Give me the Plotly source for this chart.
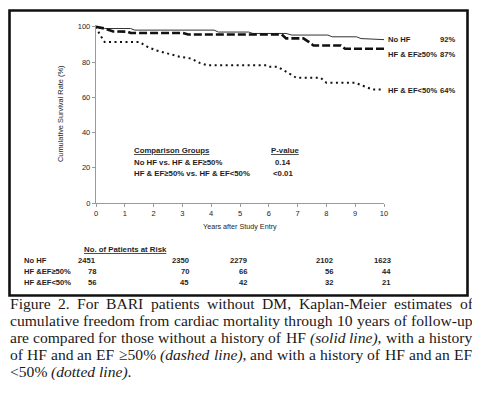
import plotly.graph_objects as go

# ---------------- data ----------------
t_nohf = [0, 0.1, 0.3, 1.2, 1.35, 4.1, 4.25, 5.3, 5.45, 6.6, 6.8, 8.05, 8.2, 9.05, 9.2, 9.7, 10]
s_nohf = [100, 99.3, 99.0, 99.0, 98.1, 98.1, 97.0, 97.0, 96.2, 96.2, 95.3, 95.3, 94.3, 94.3, 93.3, 93.1, 92.7]

t_ef_ge = [0, 0.3, 0.6, 1.1, 1.2, 3.0, 3.2, 6.45, 6.6, 7.2, 7.4, 7.55, 8.5, 8.65, 10]
s_ef_ge = [100, 99, 97.3, 97.2, 96.5, 96.5, 95.6, 95.6, 93.4, 93.4, 91.3, 89.4, 89.4, 87.5, 87.5]

t_ef_lt = [0, 0.12, 0.3, 1.5, 1.8, 2.1, 2.45, 2.9, 3.3, 3.6, 3.85, 5.95, 6.05, 6.3, 6.6, 6.96,
           7.8, 8.0, 9.0, 9.3, 9.6, 10]
s_ef_lt = [100, 96, 91.3, 91.3, 88.5, 86.5, 85, 83, 82, 79.5, 78.2, 78.2, 77.3, 77.3, 74.5, 71,
           71, 68.2, 68.2, 66.5, 64.4, 64.4]

series_names = ["No HF", "HF &amp; EF≥50%", "HF &amp; EF&lt;50%"]
final_pct = ["92%", "87%", "64%"]

y_ticks = [0, 20, 40, 60, 80, 100]
x_ticks = list(range(0, 11))

comp_groups = ["No HF vs. HF &amp; EF≥50%", "HF &amp; EF≥50% vs. HF &amp; EF&lt;50%"]
p_values = ["0.14", "&lt;0.01"]

risk_times = [0, 3, 5, 8, 10]
risk_labels = ["No HF", "HF &amp;EF≥50%", "HF &amp;EF&lt;50%"]
risk_nohf = [2451, 2350, 2279, 2102, 1623]
risk_ef_ge = [78, 70, 66, 56, 44]
risk_ef_lt = [56, 45, 42, 32, 21]

caption_lines = [
    "Figure 2. For BARI patients without DM, Kaplan-Meier estimates of",
    "cumulative freedom from cardiac mortality through 10 years of follow-up",
    "are compared for those without a history of HF <i>(solid line)</i>, with a history",
    "of HF and an EF ≥50% <i>(dashed line)</i>, and with a history of HF and an EF",
    "&lt;50% <i>(dotted line)</i>.",
]

# ---------------- geometry ----------------
# the page body has an 8px margin, so the figure is drawn 8px smaller
OFF = 8
FW, FH = 480 - OFF, 399 - OFF
PL, PR, PT, PB = 96, 384, 25, 203          # plot area in window pixels
PW = PR - PL
PH = PB - PT
ML, MR, MT, MB = PL - OFF, FW - (PR - OFF), PT - OFF, FH - (PB - OFF)


def px(xa):
    return (xa - PL) / PW


def py(ya):
    return (PB - ya) / PH


SANS = "Liberation Sans, Arial, sans-serif"
SERIF = "Liberation Serif, Times New Roman, serif"
INK = "#1e1e1e"
AX = "#9a9a9a"

fig = go.Figure()
fig.add_trace(go.Scatter(x=t_nohf, y=s_nohf, mode="lines",
                         line=dict(color="#333", width=1.0), showlegend=False))
fig.add_trace(go.Scatter(x=t_ef_ge, y=s_ef_ge, mode="lines",
                         line=dict(color="#111", width=2.6, dash="8px,3px"), showlegend=False))
fig.add_trace(go.Scatter(x=t_ef_lt, y=s_ef_lt, mode="lines",
                         line=dict(color="#111", width=2.0, dash="2px,3.5px"), showlegend=False))

ann = []


def txt(x, y, text, size=7.8, xanchor="center", yanchor="middle", xref="paper", yref="paper",
        family=SANS, color=INK, **kw):
    ann.append(dict(x=x, y=y, xref=xref, yref=yref, text=text, showarrow=False,
                    xanchor=xanchor, yanchor=yanchor, borderpad=0,
                    font=dict(family=family, size=size, color=color), **kw))


# end-of-curve labels
end_vals = [s_nohf[-1], s_ef_ge[-1], s_ef_lt[-1]]
label_dy = [0, 3.5, 0.5]
for name, pct, v, dy in zip(series_names, final_pct, end_vals, label_dy):
    txt(10, v, "<b>%s</b>" % name, size=7.6, xanchor="left", xref="x", yref="y",
        xshift=2.5, yshift=-dy * PH / 101)
    txt(px(456), v, "<b>%s</b>" % pct, size=7.6, xanchor="right", yref="y",
        yshift=-dy * PH / 101)

# comparison groups block
txt(px(133), py(150), "<b><u>Comparison Groups</u></b>", xanchor="left")
txt(px(284.5), py(150), "<b><u>P-value</u></b>", xanchor="center")
for i, (g, p) in enumerate(zip(comp_groups, p_values)):
    yy = py(162.7 + 10.6 * i)
    txt(px(133), yy, "<b>%s</b>" % g, xanchor="left")
    txt(px(283), yy, "<b>%s</b>" % p, xanchor="center")

# axis titles
txt(px(60), 0.5, "Cumulative Survival Rate (%)", size=7.4, textangle=-90)
txt(0.5, py(226.7), "Years after Study Entry", size=7.2)

# patients at risk table
txt(px(125), py(249.3), "<b><u>No. of Patients at Risk</u></b>")
for r, (lab, vals) in enumerate(zip(risk_labels, [risk_nohf, risk_ef_ge, risk_ef_lt])):
    yy = py(260.7 + 10.8 * r)
    txt(px(23), yy, "<b>%s</b>" % lab, size=7.6, xanchor="left")
    for t, v in zip(risk_times, vals):
        txt(t, yy, "<b>%d</b>" % v, size=7.6, xanchor="right", xref="x",
            xshift=(1 if t == 0 else 7.5))

# ---------------- justified caption ----------------
REG = {
    'a': 444, 'b': 500, 'c': 444, 'd': 500, 'e': 444, 'f': 333, 'g': 500, 'h': 500, 'i': 278,
    'j': 278, 'k': 500, 'l': 278, 'm': 778, 'n': 500, 'o': 500, 'p': 500, 'q': 500, 'r': 333,
    's': 389, 't': 278, 'u': 500, 'v': 500, 'w': 722, 'x': 500, 'y': 500, 'z': 444,
    'A': 722, 'B': 667, 'C': 667, 'D': 722, 'E': 611, 'F': 556, 'G': 722, 'H': 722, 'I': 333,
    'J': 389, 'K': 722, 'L': 611, 'M': 889, 'N': 722, 'O': 722, 'P': 556, 'Q': 722, 'R': 667,
    'S': 556, 'T': 611, 'U': 722, 'V': 722, 'W': 944, 'X': 722, 'Y': 722, 'Z': 611,
    ' ': 250, '.': 250, ',': 250, '-': 333, '(': 333, ')': 333, '%': 833, '<': 564, '≥': 549,
}
ITA = {'a': 500, 'f': 278, 'r': 389, 'v': 444, 'y': 444, '(': 333, ')': 333}


def word_width(word, size):
    w = 0.0
    ital = False
    i = 0
    while i < len(word):
        if word.startswith("<i>", i):
            ital = True
            i += 3
            continue
        if word.startswith("</i>", i):
            ital = False
            i += 4
            continue
        if word.startswith("&lt;", i):
            w += REG['<']
            i += 4
            continue
        ch = word[i]
        if ch.isdigit():
            w += 500
        elif ital and ch in ITA:
            w += ITA[ch]
        else:
            w += REG.get(ch, 500)
        i += 1
    return w * size / 1000.0


CAP_SIZE = 15.6
CAP_LEFT, CAP_RIGHT = 8.5, 471.5
for li, line in enumerate(caption_lines):
    raw = line.split(" ")
    words = []
    open_i = False
    for w in raw:
        s = w
        if open_i:
            s = "<i>" + s
        if s.count("<i>") > s.count("</i>"):
            s = s + "</i>"
            open_i = True
        else:
            open_i = False if "</i>" in w else open_i
        words.append(s)
    widths = [word_width(w, CAP_SIZE) for w in words]
    last = li == len(caption_lines) - 1
    if last or len(words) < 2:
        gap = REG[' '] * CAP_SIZE / 1000.0
    else:
        gap = (CAP_RIGHT - CAP_LEFT - sum(widths)) / (len(words) - 1)
    xcur = CAP_LEFT
    ycen = 303.5 + 17.1 * li
    for w, wd in zip(words, widths):
        txt(px(xcur), py(ycen), w, size=CAP_SIZE, xanchor="left", family=SERIF, color="#1a1a1a")
        xcur += wd + gap

# outer frame
shapes = [dict(type="rect", xref="paper", yref="paper",
               x0=px(9.5), x1=px(467.5), y0=py(295.5), y1=py(10.5),
               line=dict(color="#111", width=2.6), fillcolor="rgba(0,0,0,0)", layer="above")]

fig.update_layout(
    width=FW, height=FH,
    margin=dict(l=ML, r=MR, t=MT, b=MB, pad=0),
    paper_bgcolor="white", plot_bgcolor="white",
    showlegend=False,
    annotations=ann,
    shapes=shapes,
    xaxis=dict(range=[0, 10], tickvals=x_ticks, showline=True, linecolor=AX, linewidth=1.4,
               ticks="outside", ticklen=3, tickcolor=AX, tickwidth=1, showgrid=False,
               zeroline=False, tickfont=dict(family=SANS, size=7.5, color=INK), fixedrange=True),
    yaxis=dict(range=[0, 101], tickvals=y_ticks, showline=True, linecolor=AX, linewidth=1.4,
               ticks="outside", ticklen=3, tickcolor=AX, tickwidth=1, showgrid=False,
               zeroline=False, tickfont=dict(family=SANS, size=7.5, color=INK), fixedrange=True),
)

fig.write_html("out.html")
